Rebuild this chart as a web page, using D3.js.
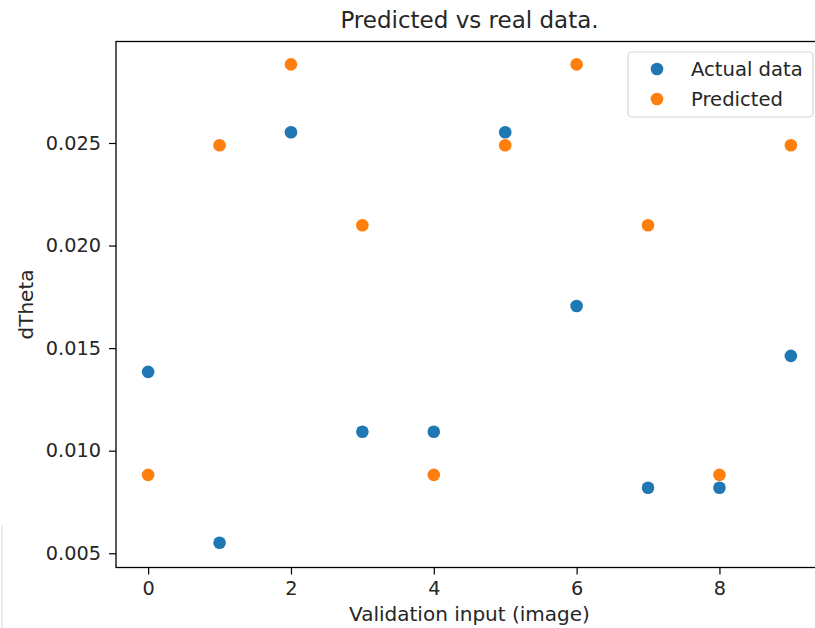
<!DOCTYPE html>
<html lang="en">
	<head>
		<meta charset="utf-8">
		<title>Predicted vs real data.</title>
		<script type="text/javascript" src="https://d3js.org/d3.v7.min.js"></script>
		<style type="text/css">
			body { margin: 0; background: #fff; }
			svg { display: block; }
			text { font-family: "DejaVu Sans", sans-serif; fill: #262626; }
		</style>
	</head>
	<body>
		<script type="text/javascript">

			//Data
			var inputs = [0, 1, 2, 3, 4, 5, 6, 7, 8, 9];
			var actual = [0.01384, 0.00551, 0.02552, 0.01092, 0.01092, 0.02552, 0.01705, 0.00819, 0.00819, 0.01462];
			var predicted = [0.00882, 0.02489, 0.02883, 0.02099, 0.00882, 0.02489, 0.02883, 0.02099, 0.00882, 0.02489];
			var xTicks = [0, 2, 4, 6, 8];
			var yTicks = [0.005, 0.010, 0.015, 0.020, 0.025];
			var seriesNames = ["Actual data", "Predicted"];
			var colors = ["#1f77b4", "#ff7f0e"];

			//Width and height (plot edges; "top" is reserved on window, so prefixed)
			var w = 815;
			var h = 628;
			var plotLeft = 116, plotRight = 823, plotTop = 41.5, plotBottom = 567.5;

			var svg = d3.select("body")
						.append("svg")
						.attr("width", w)
						.attr("height", h);

			//Scales (matplotlib style 5% margins)
			var xScale = d3.scaleLinear()
								 .domain([-0.45, 9.45])
								 .range([plotLeft, plotRight]);

			var allY = actual.concat(predicted);
			var yMin = d3.min(allY), yMax = d3.max(allY);
			var pad = (yMax - yMin) * 0.05;
			var yScale = d3.scaleLinear()
								 .domain([yMin - pad, yMax + pad])
								 .range([plotBottom - 0.8, plotTop - 1]);

			//Faint edge line on the left (from the screenshot)
			svg.append("line")
				.attr("x1", 2).attr("x2", 2)
				.attr("y1", 525).attr("y2", h)
				.attr("stroke", "#e6e6e6")
				.attr("stroke-width", 1.5);

			//Points
			var series = [actual, predicted];
			series.forEach(function(vals, si) {
				svg.append("g")
					.selectAll("circle")
					.data(vals)
					.enter()
					.append("circle")
					.attr("cx", function(d, i) { return xScale(inputs[i]); })
					.attr("cy", function(d) { return yScale(d); })
					.attr("r", 6.3)
					.attr("fill", colors[si]);
			});

			//Axes
			var xAxis = d3.axisBottom(xScale)
							  .tickValues(xTicks)
							  .tickSize(7)
							  .tickPadding(7)
							  .tickFormat(d3.format("d"));
			var yAxis = d3.axisLeft(yScale)
							  .tickValues(yTicks)
							  .tickSize(7)
							  .tickPadding(8)
							  .tickFormat(d3.format(".3f"));

			var gx = svg.append("g")
				.attr("transform", "translate(0," + plotBottom + ")")
				.call(xAxis);
			var gy = svg.append("g")
				.attr("transform", "translate(" + plotLeft + ",0)")
				.call(yAxis);

			[gx, gy].forEach(function(g) {
				g.select(".domain").remove();
				g.selectAll(".tick line").attr("stroke", "#000").attr("stroke-width", 1.2);
				g.selectAll(".tick text")
					.style("font-family", "DejaVu Sans, sans-serif")
					.style("font-size", "19.3px")
					.attr("fill", "#262626");
			});

			//Spines
			svg.append("rect")
				.attr("x", plotLeft)
				.attr("y", plotTop)
				.attr("width", plotRight - plotLeft)
				.attr("height", plotBottom - plotTop)
				.attr("fill", "none")
				.attr("stroke", "#000")
				.attr("stroke-width", 1.3);

			//Title and labels
			svg.append("text")
				.attr("x", (plotLeft + plotRight) / 2)
				.attr("y", 28)
				.attr("text-anchor", "middle")
				.style("font-size", "23px")
				.text("Predicted vs real data.");

			svg.append("text")
				.attr("x", (plotLeft + plotRight) / 2)
				.attr("y", 621)
				.attr("text-anchor", "middle")
				.style("font-size", "20px")
				.text("Validation input (image)");

			svg.append("text")
				.attr("transform", "translate(33," + ((plotTop + plotBottom) / 2) + ") rotate(-90)")
				.attr("text-anchor", "middle")
				.style("font-size", "20px")
				.text("dTheta");

			//Legend
			var legend = svg.append("g");
			legend.append("rect")
				.attr("x", 628)
				.attr("y", 52)
				.attr("width", 185)
				.attr("height", 65)
				.attr("rx", 4)
				.attr("fill", "#fff")
				.attr("fill-opacity", 0.8)
				.attr("stroke", "#d6d6d6")
				.attr("stroke-width", 1.2);

			var items = legend.selectAll("g.item")
				.data(seriesNames)
				.enter()
				.append("g")
				.attr("class", "item")
				.attr("transform", function(d, i) { return "translate(0," + (69 + i * 30) + ")"; });
			items.append("circle")
				.attr("cx", 657)
				.attr("cy", 0)
				.attr("r", 6.3)
				.attr("fill", function(d, i) { return colors[i]; });
			items.append("text")
				.attr("x", 691)
				.attr("y", 7)
				.style("font-size", "19.6px")
				.text(function(d) { return d; });

		</script>
	</body>
</html>
